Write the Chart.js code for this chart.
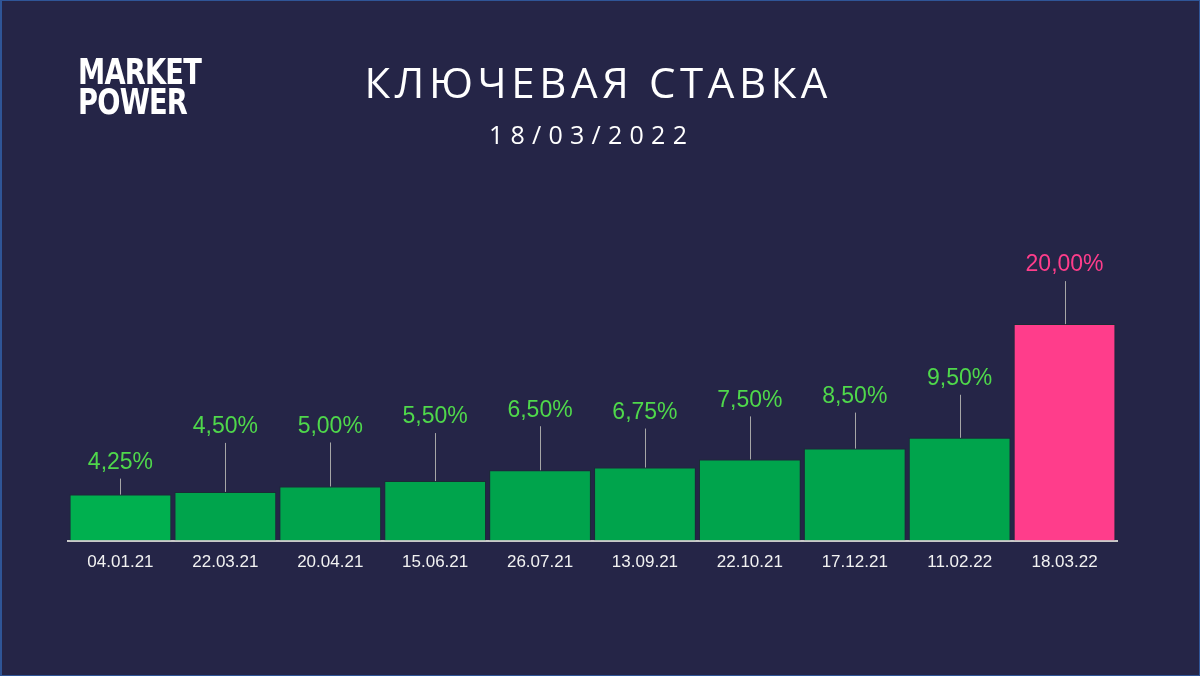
<!DOCTYPE html>
<html>
<head>
<meta charset="utf-8">
<script src="https://cdn.jsdelivr.net/npm/chart.js@4"></script>
<style>
  html, body { margin: 0; padding: 0; }
  body { width: 1200px; height: 676px; background: #252547; overflow: hidden; position: relative; }
  .frame { position: absolute; left: 0; top: 0; width: 1200px; height: 676px; box-sizing: border-box; border: 1px solid #2f5597; border-left-width: 2px; pointer-events: none; }
  .chartBox { position: absolute; left: 0; top: 0; width: 1200px; height: 676px; }
  .logo { position: absolute; left: 78px; top: 57px; color: #fff; font-family: "DejaVu Sans", sans-serif; font-weight: bold; font-size: 35px; line-height: 30px; transform: scaleX(0.78); transform-origin: left top; letter-spacing: -1px; }
  .title { position: absolute; left: 0; width: 1200px; top: 53px; text-align: center; color: #fff; font-family: "Open Sans", sans-serif; font-size: 42px; letter-spacing: 0.11em; padding-left: 0.11em; box-sizing: border-box; margin-left: -4px; }
  .subtitle { position: absolute; left: 0; width: 1200px; top: 117px; text-align: center; color: #fff; font-family: "Open Sans", sans-serif; font-size: 25px; letter-spacing: 0.29em; padding-left: 0.29em; box-sizing: border-box; margin-left: -12px; }
</style>
</head>
<body>
<div class="chartBox"><canvas id="myChart"></canvas></div>
<div class="logo">MARKET<br>POWER</div>
<div class="title">КЛЮЧЕВАЯ СТАВКА</div>
<div class="subtitle">18/03/2022</div>
<div class="frame"></div>
<script>
const dates = ['04.01.21', '22.03.21', '20.04.21', '15.06.21', '26.07.21', '13.09.21', '22.10.21', '17.12.21', '11.02.22', '18.03.22'];
const rates = [4.25, 4.50, 5.00, 5.50, 6.50, 6.75, 7.50, 8.50, 9.50, 20.00];

const barColors = ['#00b04f', '#00a44c', '#00a44c', '#00a44c', '#00a44c', '#00a44c', '#00a44c', '#00a44c', '#00a44c', '#ff3d8b'];
const labelColors = ['#4fd84b', '#4fd84b', '#4fd84b', '#4fd84b', '#4fd84b', '#4fd84b', '#4fd84b', '#4fd84b', '#4fd84b', '#ff3d8b'];
// how far each label sits above its bar (px)
const labelLift = [32, 65, 60, 64, 60, 55, 59, 52, 59, 59];

const leaderLabels = {
    id: 'leaderLabels',
    afterDatasetsDraw(chart) {
        const ctx = chart.ctx;
        const meta = chart.getDatasetMeta(0);
        ctx.save();
        ctx.font = '23px "Liberation Sans", Arial, sans-serif';
        ctx.textAlign = 'center';
        ctx.textBaseline = 'middle';
        meta.data.forEach((bar, i) => {
            const labelY = bar.y - labelLift[i];
            ctx.strokeStyle = '#a6a6a6';
            ctx.lineWidth = 1;
            ctx.beginPath();
            ctx.moveTo(Math.round(bar.x) + 0.5, labelY + 16);
            ctx.lineTo(Math.round(bar.x) + 0.5, bar.y);
            ctx.stroke();
            ctx.fillStyle = labelColors[i];
            ctx.fillText(rates[i].toFixed(2).replace('.', ',') + '%', bar.x, labelY);
        });
        ctx.restore();
    }
};

const ctx = document.getElementById('myChart').getContext('2d');
new Chart(ctx, {
    type: 'bar',
    data: {
        labels: dates,
        datasets: [{
            data: rates,
            backgroundColor: barColors,
            borderColor: 'rgba(25,45,50,0.85)',
            borderWidth: 1,
            barPercentage: 0.97,
            categoryPercentage: 1
        }]
    },
    options: {
        responsive: true,
        maintainAspectRatio: false,
        animation: false,
        layout: { padding: { left: 68, right: 83, top: 270, bottom: 91 } },
        plugins: {
            legend: { display: false },
            tooltip: { enabled: false }
        },
        scales: {
            x: {
                grid: { display: false, drawTicks: false },
                border: { display: true, color: '#c9c9c9', width: 2 },
                ticks: { color: '#f2f2f2', padding: 12, font: { family: '"Liberation Sans", Arial, sans-serif', size: 17 } }
            },
            y: {
                display: false,
                min: 0,
                max: 25
            }
        }
    },
    plugins: [leaderLabels]
});
</script>
</body>
</html>
